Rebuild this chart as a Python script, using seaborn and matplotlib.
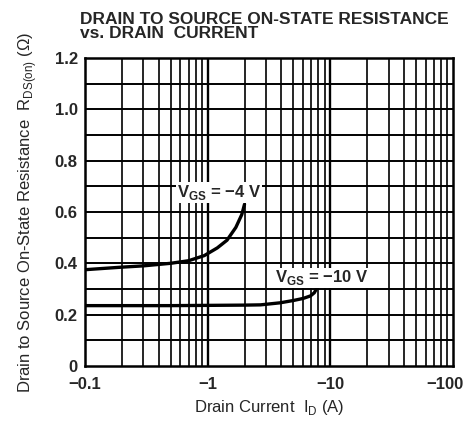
import numpy as np
import pandas as pd
import matplotlib
matplotlib.use("Agg")
import matplotlib.pyplot as plt
import matplotlib.transforms as mtransforms
import seaborn as sns

# Data (|ID| in A, RDS(on) in ohm)
id_4v = [0.1, 0.2, 0.3, 0.5, 0.7, 0.94, 1.2, 1.44, 1.7, 1.9, 2.0]
r_4v = [0.375, 0.385, 0.39, 0.40, 0.41, 0.43, 0.46, 0.49, 0.54, 0.59, 0.63]
id_10v = [0.1, 0.5, 1.0, 2.0, 2.7, 3.9, 5.0, 6.0, 6.9, 7.4, 7.7]
r_10v = [0.235, 0.235, 0.236, 0.237, 0.238, 0.246, 0.255, 0.263, 0.273, 0.285, 0.30]
x_ticks = [0.1, 1, 10, 100]
x_ticklabels = ["\u22120.1", "\u22121", "\u221210", "\u2212100"]
y_ticks = [0, 0.2, 0.4, 0.6, 0.8, 1.0, 1.2]
y_ticklabels = ["0", "0.2", "0.4", "0.6", "0.8", "1.0", "1.2"]

df = pd.concat([
    pd.DataFrame({"I": id_4v, "R": r_4v, "s": "-4"}),
    pd.DataFrame({"I": id_10v, "R": r_10v, "s": "-10"}),
])

sns.set_style("white")
plt.rcParams['font.family'] = ['Liberation Sans', 'DejaVu Sans']
plt.rcParams['mathtext.fontset'] = 'custom'
plt.rcParams['mathtext.rm'] = 'Liberation Sans'
plt.rcParams['mathtext.bf'] = 'Liberation Sans:bold'

fig = plt.figure(figsize=(4.71, 4.24), dpi=100)
ax = fig.add_axes([0.180, 0.137, 0.782, 0.726])

ax.set_xscale("log")
ax.set_xlim(0.1, 100)
ax.set_ylim(0, 1.2)

# grid
for dec in [0.1, 1, 10]:
    for m in range(1, 10):
        v = dec * m
        if v <= 0.1:
            continue
        ax.axvline(v, color="black", lw=1.7 if m == 1 else 1.2, zorder=1)
for v in np.arange(0.1, 1.2, 0.1):
    ax.axhline(v, color="black", lw=1.4, zorder=1)

sns.lineplot(data=df, x="I", y="R", units="s", estimator=None, color="black",
             lw=2.4, ax=ax, zorder=3, legend=False)

ax.set_xticks(x_ticks)
ax.set_xticklabels(x_ticklabels)
ax.set_xticks([], minor=True)
ax.set_yticks(y_ticks)
ax.set_yticklabels(y_ticklabels)
ax.tick_params(axis="both", length=0, labelsize=12)
ax.tick_params(axis="x", pad=8)
ax.tick_params(axis="y", pad=5)
for lab in ax.get_xticklabels() + ax.get_yticklabels():
    lab.set_fontweight("bold")
xl = ax.get_xticklabels()
shift = mtransforms.ScaledTranslation(-8 / 100, 0, fig.dpi_scale_trans)
xl[-1].set_transform(xl[-1].get_transform() + shift)
for sp in ax.spines.values():
    sp.set_color("black")
    sp.set_linewidth(1.8)

bbox = dict(facecolor="white", edgecolor="none", pad=0.5)
ax.text(1.24, 0.676, "V$_{\\mathbf{GS}}$ = \u22124 V",
        ha="center", va="center", fontsize=12, fontweight="bold", bbox=bbox, zorder=4)
ax.text(8.5, 0.344, "V$_{\\mathbf{GS}}$ = \u221210 V",
        ha="center", va="center", fontsize=12, fontweight="bold", bbox=bbox, zorder=4)

ax.set_xlabel(r"Drain Current  I$_{\mathrm{D}}$ (A)", fontsize=12, labelpad=4)
ax.set_ylabel(r"Drain to Source On-State Resistance  R$_{\mathrm{DS(on)}}$ ($\Omega$)",
              fontsize=12, labelpad=11)

fig.text(0.170, 0.972, "DRAIN TO SOURCE ON-STATE RESISTANCE\nvs. DRAIN  CURRENT",
         ha="left", va="top", fontsize=12.5, fontweight="bold", linespacing=0.92)

fig.savefig("out.png", dpi=100)
